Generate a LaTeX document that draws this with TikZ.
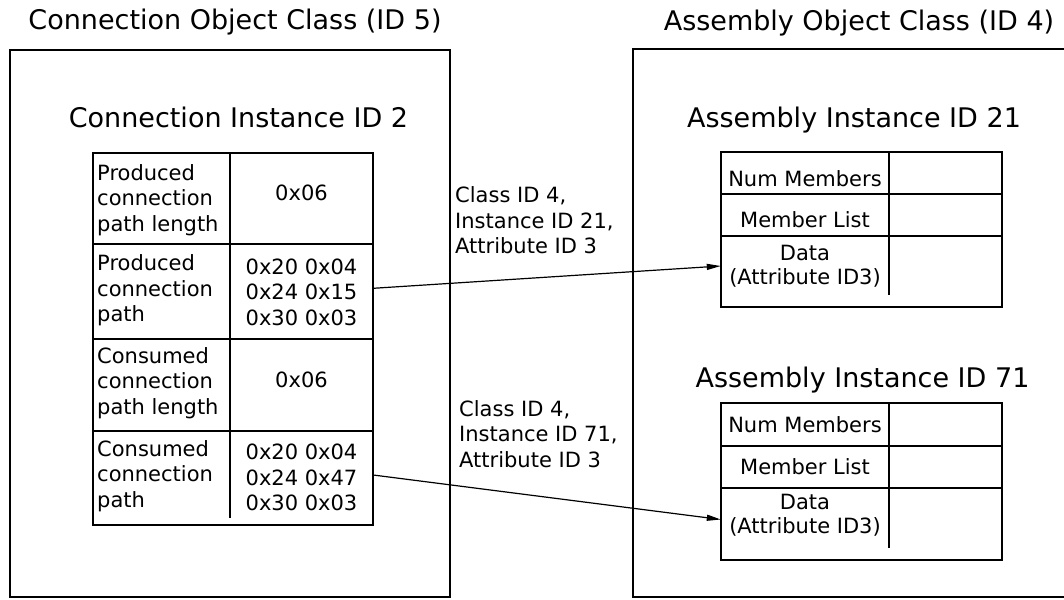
\documentclass[tikz,border=0pt]{standalone}
\usepackage{fontspec}
\setmainfont{DejaVu Sans}
\usetikzlibrary{arrows.meta}
\begin{document}
\begin{tikzpicture}[x=1pt,y=-1pt,
  frame/.style={line width=2pt},
  grid/.style={line width=2pt},
  title/.style={anchor=base, inner sep=0pt, font=\fontsize{27}{32}\selectfont},
  txt/.style={inner sep=0pt, font=\fontsize{21}{25.5}\selectfont},
  lcell/.style={txt, anchor=west, align=left},
  ccell/.style={txt, align=center},
  conn/.style={line width=1.2pt, -{Triangle[length=14pt,width=6pt]}}]
\useasboundingbox (0,0) rectangle (1064,599);
\clip (0,0) rectangle (1064,599);

% class frames
\draw[frame] (10,50) rectangle (450,596.5);
\draw[frame] (633.3,49.3) rectangle (1090,596.5);

% titles
\node[title] (t1) at (235,30) {Connection Object Class (ID 5)};
\node[title] (t2) at (859,30.5) {Assembly Object Class (ID 4)};
\node[title] (h1) at (238.5,128) {Connection Instance ID 2};
\node[title] (h2) at (854,128) {Assembly Instance ID 21};
\node[title] (h3) at (862.5,387) {Assembly Instance ID 71};

% connection instance table
\draw[grid] (93,153) rectangle (373,525);
\draw[grid] (230,153) -- (230,518);
\foreach \y in {244,339,431} \draw[grid] (93,\y) -- (373,\y);

\node[lcell] (pl1) at (97,200) {Produced\\connection\\path length};
\node[ccell] (pv1) at (301.5,193) {0x06};
\node[lcell] (pl2) at (97,290.5) {Produced\\connection\\path};
\node[ccell, minimum width=143pt] (pv2) at (301.5,292.3) {0x20 0x04\\0x24 0x15\\0x30 0x03};
\node[lcell] (pl3) at (97,383) {Consumed\\connection\\path length};
\node[ccell] (pv3) at (301.5,380) {0x06};
\node[lcell] (pl4) at (97,476) {Consumed\\connection\\path};
\node[ccell, minimum width=143pt] (pv4) at (301.5,477.4) {0x20 0x04\\0x24 0x47\\0x30 0x03};

% assembly instance 21 table
\draw[grid] (721,152) rectangle (1002,307);
\draw[grid] (889,152) -- (889,295);
\draw[grid] (721,194) -- (1002,194);
\draw[grid] (721,236) -- (1002,236);
\node[ccell] (nm1) at (805,179) {Num Members};
\node[ccell] (ml1) at (805,220) {Member List};
\node[ccell, minimum width=168pt, font=\fontsize{21}{24}\selectfont] (dt1) at (805,266) {Data\\(Attribute ID3)};

% assembly instance 71 table
\draw[grid] (721,403) rectangle (1002,560);
\draw[grid] (889,403) -- (889,548);
\draw[grid] (721,446) -- (1002,446);
\draw[grid] (721,488) -- (1002,488);
\node[ccell] (nm2) at (805,425) {Num Members};
\node[ccell] (ml2) at (805,467) {Member List};
\node[ccell, minimum width=168pt, font=\fontsize{21}{24}\selectfont] (dt2) at (805,515.5) {Data\\(Attribute ID3)};

% path labels
\node[lcell] (lab1) at (455,220.5) {Class ID 4,\\Instance ID 21,\\Attribute ID 3};
\node[lcell] (lab2) at (459,434) {Class ID 4,\\Instance ID 71,\\Attribute ID 3};

% connectors
\draw[conn] ([yshift=4pt]pv2.east) -- (dt1.west);
\draw[conn] ([yshift=2.4pt]pv4.east) -- ([yshift=-4pt]dt2.west);
\end{tikzpicture}
\end{document}
